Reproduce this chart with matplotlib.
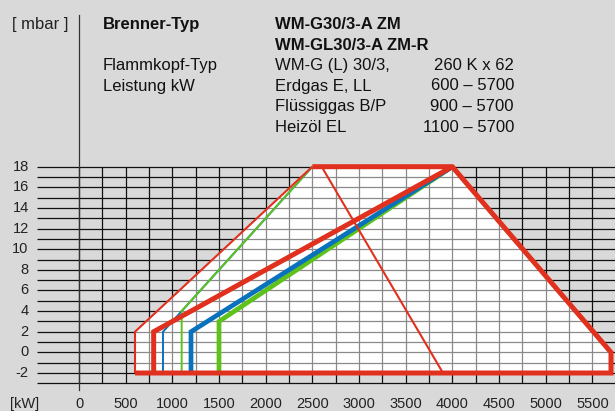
import matplotlib
matplotlib.use("Agg")
import matplotlib.pyplot as plt
from matplotlib.patches import Polygon
from matplotlib.collections import LineCollection

# ---- data ----
x_ticks = [0, 500, 1000, 1500, 2000, 2500, 3000, 3500, 4000, 4500, 5000, 5500]
y_ticks = [-2, 0, 2, 4, 6, 8, 10, 12, 14, 16, 18]
x_grid = list(range(0, 5501, 250))
y_grid = list(range(-3, 19))

envelope_kw = [600, 600, 2500, 4000, 5700, 5700]
envelope_mbar = [-2, 2, 18, 18, 0, -2]

red_thin_kw = [600, 600, 2500]
red_thin_mbar = [-2, 2, 18]
red_diag_kw = [2600, 3900]
red_diag_mbar = [18, -2]
red_outer_kw = [2500, 4000, 5700, 5700, 600]
red_outer_mbar = [18, 18, 0, -2, -2]
red_thick_kw = [800, 800, 4000]
red_thick_mbar = [-2, 2, 18]
blue_thin_kw = [900, 900, 1100, 2500]
blue_thin_mbar = [-2, 2, 4, 18]
blue_thick_kw = [1200, 1200, 4000]
blue_thick_mbar = [-2, 2, 18]
green_thin_kw = [1100, 1100, 2500]
green_thin_mbar = [-2, 4, 18]
green_thick_kw = [1500, 1500, 4000]
green_thick_mbar = [-2, 3, 18]

header_left = ["Brenner-Typ", "", "Flammkopf-Typ", "Leistung kW", "", ""]
header_mid = ["WM-G30/3-A ZM", "WM-GL30/3-A ZM-R", "WM-G (L) 30/3,", "Erdgas E, LL",
              "Flüssiggas B/P", "Heizöl EL"]
header_right = ["", "", "260 K x 62", "600 – 5700", "900 – 5700", "1100 – 5700"]

# ---- style ----
BG = "#d9d9d9"
RED = "#e0301e"
BLUE = "#0a72bd"
GREEN = "#5ec21a"
FONT = ["Liberation Sans", "DejaVu Sans"]
plt.rcParams["font.family"] = FONT

W, H = 615, 411
fig = plt.figure(figsize=(W / 100, H / 100), dpi=100, facecolor=BG)

# pixel mapping
def px(kw):
    return 79 + kw * 0.093333

def py(m):
    return 373 - (m + 2) * 10.315

xmin, xmax = -450, 5750
ymin, ymax = -3.5, 18.5
left = px(xmin) / W
right = px(xmax) / W
bottom = 1 - py(ymin) / H
top = 1 - py(ymax) / H
ax = fig.add_axes([left, bottom, right - left, top - bottom])
ax.set_xlim(xmin, xmax)
ax.set_ylim(ymin, ymax)
ax.axis("off")
ax.patch.set_alpha(0)

# black grid
hsegs = [[(xmin, y), (xmax, y)] for y in y_grid]
vsegs = [[(x, -3), (x, 18)] for x in x_grid]
ax.add_collection(LineCollection(hsegs + vsegs, colors="#111111", linewidths=0.9, zorder=1))

# white envelope
poly = Polygon(list(zip(envelope_kw, envelope_mbar)), closed=True, facecolor="white",
               edgecolor="none", zorder=2)
ax.add_patch(poly)
gray = LineCollection(hsegs + vsegs, colors="#8a8a8a", linewidths=0.9, zorder=3)
ax.add_collection(gray)
gray.set_clip_path(poly)

# y-axis line at 0 extending up
ax.plot([0, 0], [(373 - 390) / 10.315 - 2, (373 - 15) / 10.315 - 2], color="#333333",
        lw=0.9, clip_on=False, zorder=1)

kw = dict(solid_joinstyle="miter", solid_capstyle="butt", clip_on=False)
ax.plot(green_thin_kw, green_thin_mbar, color=GREEN, lw=1.4, zorder=5, **kw)
ax.plot(blue_thin_kw, blue_thin_mbar, color=BLUE, lw=1.4, zorder=4, **kw)
ax.plot(green_thick_kw, green_thick_mbar, color=GREEN, lw=3.4, zorder=6, **kw)
ax.plot(blue_thick_kw, blue_thick_mbar, color=BLUE, lw=3.4, zorder=7, **kw)
ax.plot(red_thin_kw, red_thin_mbar, color=RED, lw=1.5, zorder=8, **kw)
ax.plot(red_diag_kw, red_diag_mbar, color=RED, lw=1.5, zorder=8, **kw)
ax.plot(red_outer_kw, red_outer_mbar, color=RED, lw=3.6, zorder=9, **kw)
ax.plot(red_thick_kw, red_thick_mbar, color=RED, lw=3.6, zorder=9, **kw)

# tick labels
TS = 10.5
for y in y_ticks:
    fig.text(28.7 / W, 1 - py(y) / H, f"{y}", ha="right", va="center", fontsize=TS, color="#222222")
for x in x_ticks:
    fig.text(px(x) / W, 1 - 404 / H, f"{x}", ha="center", va="center", fontsize=TS, color="#222222")
fig.text(10 / W, 1 - 404 / H, "[kW]", ha="left", va="center", fontsize=TS, color="#222222")

# header
HS = 12
fig.text(11.7 / W, 1 - 29 / H, "[ mbar ]", ha="left", va="baseline", fontsize=HS, color="#222222")
baselines = [29, 49.5, 70, 90.5, 111, 131.5]
for i, b in enumerate(baselines):
    bold = i < 2
    if header_left[i]:
        fig.text(103 / W, 1 - b / H, header_left[i], ha="left", va="baseline", fontsize=HS,
                 fontweight="bold" if i == 0 else "normal", color="#111111")
    if header_mid[i]:
        fig.text(275 / W, 1 - b / H, header_mid[i], ha="left", va="baseline", fontsize=HS,
                 fontweight="bold" if bold else "normal", color="#111111")
    if header_right[i]:
        fig.text(514 / W, 1 - b / H, header_right[i], ha="right", va="baseline", fontsize=HS,
                 color="#111111")

fig.savefig("out.png", dpi=100, facecolor=BG)
